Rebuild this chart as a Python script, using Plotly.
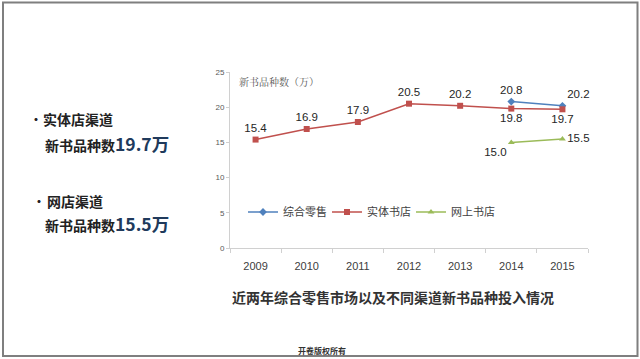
import plotly.graph_objects as go

years = ["2009", "2010", "2011", "2012", "2013", "2014", "2015"]
retail_total = [None, None, None, None, None, 20.8, 20.2]
physical_store = [15.4, 16.9, 17.9, 20.5, 20.2, 19.8, 19.7]
online_store = [None, None, None, None, None, 15.0, 15.5]

retail_pos = ["top center"] * 5 + ["top center", "top right"]
physical_pos = ["top center"] * 5 + ["bottom center", "bottom center"]
online_pos = ["middle left"] * 5 + ["bottom left", "middle right"]

W, H = 640, 359
L, R, T, B = 230, 588, 72, 248


def px(x):
    return (x - L) / (R - L)


def py(y):
    return (B - y) / (B - T)


NUM_FONT = "Liberation Sans, Arial"
CJK = "Noto Sans CJK SC"


def fmt(v):
    return "" if v is None else f"{v:.1f}"


fig = go.Figure()
fig.add_trace(go.Scatter(
    x=years, y=retail_total, name="综合零售", mode="lines+markers+text",
    line=dict(color="#4f81bd", width=1.5),
    marker=dict(symbol="diamond", size=6, color="#4f81bd"),
    text=[fmt(v) for v in retail_total], textposition=retail_pos,
    textfont=dict(family=NUM_FONT, size=11.5, color="#262626"),
    cliponaxis=False,
))
fig.add_trace(go.Scatter(
    x=years, y=physical_store, name="实体书店", mode="lines+markers+text",
    line=dict(color="#c0504d", width=1.5),
    marker=dict(symbol="square", size=6, color="#c0504d"),
    text=[fmt(v) for v in physical_store], textposition=physical_pos,
    textfont=dict(family=NUM_FONT, size=11.5, color="#262626"),
    cliponaxis=False,
))
fig.add_trace(go.Scatter(
    x=years, y=online_store, name="网上书店", mode="lines+markers+text",
    line=dict(color="#9bbb59", width=1.5),
    marker=dict(symbol="triangle-up", size=6, color="#9bbb59"),
    text=[fmt(v) for v in online_store], textposition=online_pos,
    textfont=dict(family=NUM_FONT, size=11.5, color="#262626"),
    cliponaxis=False,
))

fig.update_layout(
    width=W, height=H,
    margin=dict(l=L, r=W - R, t=T, b=H - B),
    paper_bgcolor="white", plot_bgcolor="white",
    showlegend=True,
    legend=dict(
        orientation="h", x=px(243), xanchor="left", y=py(212), yanchor="middle",
        font=dict(family=CJK, size=11, color="#404040"),
        entrywidth=39, entrywidthmode="pixels", itemwidth=30,
        bgcolor="rgba(0,0,0,0)",
    ),
    xaxis=dict(
        type="category", range=[-0.5, 6.5], showgrid=False,
        showline=True, linecolor="#d0d0d0", linewidth=1,
        ticks="outside", tickson="boundaries", ticklen=4, tickcolor="#d0d0d0",
        ticklabelstandoff=8,
        tickfont=dict(family=NUM_FONT, size=11, color="#404040"),
    ),
    yaxis=dict(
        range=[0, 25], dtick=5, showgrid=False, zeroline=False,
        showline=True, linecolor="#d0d0d0", linewidth=1,
        ticks="outside", ticklen=3, tickcolor="#d0d0d0",
        tickfont=dict(family="Liberation Sans, Arial", size=8, color="#595959"),
    ),
)

ann = [
    dict(x=px(237), y=py(81), text="新书品种数（万）", xanchor="left", yanchor="middle",
         font=dict(family="Noto Serif CJK SC, " + CJK, size=10, color="#595959")),
    dict(x=px(230), y=py(297), text="<b>近两年综合零售市场以及不同渠道新书品种投入情况</b>",
         xanchor="left", yanchor="middle", font=dict(family=CJK, size=14, color="#333333")),
    dict(x=px(296), y=py(350), text="<b>开卷版权所有</b>", xanchor="left", yanchor="middle",
         font=dict(family=CJK, size=8, color="#333333")),
    dict(x=px(28), y=py(119), text="<b>•</b>", xanchor="left", yanchor="middle",
         font=dict(family=CJK, size=12, color="#222222")),
    dict(x=px(41), y=py(119), text="<b>实体店渠道</b>", xanchor="left", yanchor="middle",
         font=dict(family=CJK, size=14, color="#222222")),
    dict(x=px(43), y=py(143), xanchor="left", yanchor="middle",
         text="<b>新书品种数</b><b><span style='font-size:17.5px;color:#203a5c'>19.7万</span></b>",
         font=dict(family=CJK, size=14, color="#222222")),
    dict(x=px(31), y=py(201), text="<b>•</b>", xanchor="left", yanchor="middle",
         font=dict(family=CJK, size=12, color="#222222")),
    dict(x=px(45), y=py(201), text="<b>网店渠道</b>", xanchor="left", yanchor="middle",
         font=dict(family=CJK, size=14, color="#222222")),
    dict(x=px(43), y=py(223), xanchor="left", yanchor="middle",
         text="<b>新书品种数</b><b><span style='font-size:17.5px;color:#203a5c'>15.5万</span></b>",
         font=dict(family=CJK, size=14, color="#222222")),
]
for a in ann:
    a.update(xref="paper", yref="paper", showarrow=False)
fig.update_layout(annotations=ann)

fig.add_shape(type="rect", xref="paper", yref="paper",
              x0=px(3), x1=px(637.5), y0=py(2.5), y1=py(356),
              line=dict(color="#7f7f7f", width=2), fillcolor="rgba(0,0,0,0)", layer="below")

fig.write_html(
    "out.html",
    config={"displayModeBar": False},
    post_script="document.body.style.margin='0';document.body.style.overflow='hidden';",
)
